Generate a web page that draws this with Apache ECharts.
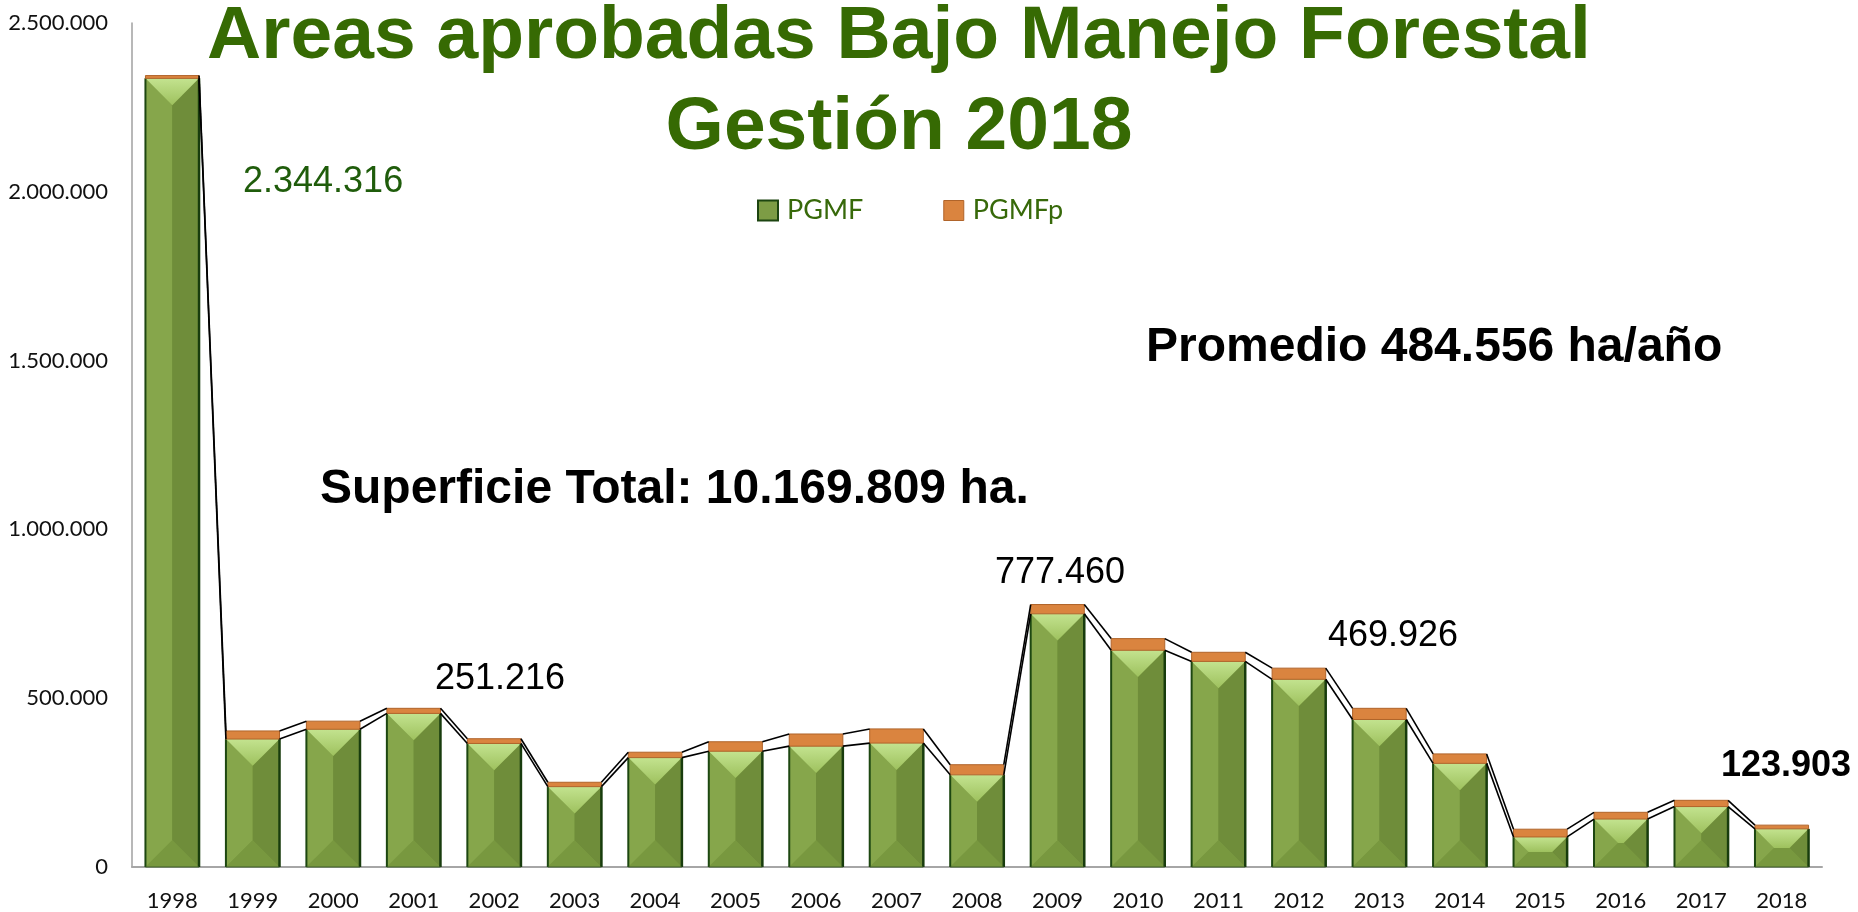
<!DOCTYPE html>
<html lang="es">
<head>
    <meta charset="UTF-8">
    <title>Areas aprobadas Bajo Manejo Forestal</title>
    <style>
        html, body { margin: 0; padding: 0; background: #fff; }
        #main { width: 1858px; height: 912px; }
    </style>
</head>
<body>
    <div id="main"></div>
    <script src="https://cdn.jsdelivr.net/npm/echarts@6/dist/echarts.min.js"></script>
    <script>
        // datos (ha)
        var years = ['1998', '1999', '2000', '2001', '2002', '2003', '2004', '2005', '2006', '2007', '2008',
                     '2009', '2010', '2011', '2012', '2013', '2014', '2015', '2016', '2017', '2018'];
        var pgmf  = [2336000, 379000, 408000, 455000, 366000, 238000, 324000, 343000, 358000, 367000, 273000,
                     750000, 642000, 609000, 556000, 437000, 307000, 89000, 142000, 179000, 113000];
        var pgmfp = [8300, 24000, 24000, 15000, 14000, 13000, 16000, 28000, 36000, 42000, 30000,
                     27500, 34500, 27000, 33000, 33000, 28000, 23000, 20000, 18500, 11000];
        var yTicks = [0, 500000, 1000000, 1500000, 2000000, 2500000];

        var BAR = 0.666;   // ancho de barra / ancho de categoria

        var totals = pgmf.map(function (v, i) { return v + pgmfp[i]; });
        var barData = years.map(function (y, i) { return [i, pgmf[i], totals[i]]; });
        var lineData = [];
        for (var i = 0; i < years.length - 1; i++) {
            lineData.push([i, totals[i], totals[i + 1], pgmf[i], pgmf[i + 1]]);
        }

        function fmt(v) {
            return String(v).replace(/\B(?=(\d{3})+(?!\d))/g, '.');
        }

        // barra verde con efecto bisel
        function renderGreen(params, api) {
            var idx = api.value(0);
            var base = api.coord([idx, 0]);
            var top = api.coord([idx, api.value(1)]);
            var bw = api.size([1, 0])[0] * BAR;
            var l = base[0] - bw / 2, r = base[0] + bw / 2, t = top[1], b = base[1];
            var d = Math.min(bw / 2, (b - t) / 2);
            var p1 = [l, t], p2 = [r, t], p3 = [r, b], p4 = [l, b];
            var i1 = [l + d, t + d], i2 = [r - d, t + d], i3 = [r - d, b - d], i4 = [l + d, b - d];
            return {
                type: 'group',
                children: [
                    { type: 'polygon', shape: { points: [p1, p2, p3, p4] }, style: { fill: '#7b9a42' } },
                    { type: 'polygon', shape: { points: [p1, i1, i4, p4] }, style: { fill: '#86a64b' } },
                    { type: 'polygon', shape: { points: [p2, p3, i3, i2] }, style: { fill: '#6f8d3a' } },
                    { type: 'polygon', shape: { points: [p4, i4, i3, p3] }, style: { fill: '#78983f' } },
                    { type: 'polygon', shape: { points: [p1, p2, i2, i1] },
                      style: { fill: new echarts.graphic.LinearGradient(0, 0, 0, 1, [
                          { offset: 0, color: '#c3e38f' }, { offset: 1, color: '#9ec15e' }]) } },
                    { type: 'polyline', shape: { points: [p1, p4] }, style: { stroke: '#1d4711', lineWidth: 2, fill: null } },
                    { type: 'polyline', shape: { points: [p2, p3] }, style: { stroke: '#183c0d', lineWidth: 2.5, fill: null } },
                    { type: 'polyline', shape: { points: [p4, p3] }, style: { stroke: '#3f5e2a', lineWidth: 1, fill: null } }
                ]
            };
        }

        // parte naranja (PGMFp) encima de la verde
        function renderOrange(params, api) {
            var idx = api.value(0);
            var lo = api.coord([idx, api.value(1)]);
            var hi = api.coord([idx, api.value(2)]);
            var bw = api.size([1, 0])[0] * BAR;
            return {
                type: 'rect',
                shape: { x: lo[0] - bw / 2, y: hi[1], width: bw, height: lo[1] - hi[1] },
                style: { fill: '#da843f', stroke: '#b0642a', lineWidth: 1 }
            };
        }

        // lineas de serie entre barras consecutivas
        function renderLines(params, api) {
            var idx = api.value(0);
            var bw = api.size([1, 0])[0] * BAR;
            var a1 = api.coord([idx, api.value(1)]), b1 = api.coord([idx + 1, api.value(2)]);
            var a2 = api.coord([idx, api.value(3)]), b2 = api.coord([idx + 1, api.value(4)]);
            return {
                type: 'group',
                children: [
                    { type: 'line', shape: { x1: a1[0] + bw / 2, y1: a1[1], x2: b1[0] - bw / 2, y2: b1[1] },
                      style: { stroke: '#000', lineWidth: 1.6 } },
                    { type: 'line', shape: { x1: a2[0] + bw / 2, y1: a2[1], x2: b2[0] - bw / 2, y2: b2[1] },
                      style: { stroke: '#000', lineWidth: 1.6 } }
                ]
            };
        }

        var myChart = echarts.init(document.getElementById('main'));
        var option = {
            animation: false,
            grid: { left: 132, right: 36, top: 23, bottom: 45 },
            legend: {
                left: 752,
                top: 192,
                itemWidth: 20,
                itemHeight: 20,
                itemGap: 80,
                selectedMode: false,
                textStyle: { fontFamily: 'Lato', fontSize: 27, color: '#37690a', padding: [0, 0, 0, 4] },
                data: [
                    { name: 'PGMF', icon: 'rect', itemStyle: { color: '#7d9c45', borderColor: '#1c4410', borderWidth: 2 } },
                    { name: 'PGMFp', icon: 'rect', itemStyle: { color: '#da843f', borderColor: '#b0642a', borderWidth: 1 } }
                ]
            },
            xAxis: {
                type: 'category',
                data: years,
                axisLine: { lineStyle: { color: '#a6a6a6', width: 2 } },
                axisTick: { show: false },
                axisLabel: { fontFamily: 'Lato', fontSize: 22, color: '#111', margin: 23 }
            },
            yAxis: {
                type: 'value',
                min: yTicks[0],
                max: yTicks[yTicks.length - 1],
                interval: yTicks[1] - yTicks[0],
                splitLine: { show: false },
                axisTick: { show: false },
                axisLine: { show: true, lineStyle: { color: '#a0a0a0', width: 1.5 } },
                axisLabel: { fontFamily: 'Lato', fontSize: 22, color: '#111', margin: 24, formatter: fmt }
            },
            graphic: [
                { type: 'text', x: 899, y: 37, style: { text: 'Areas aprobadas Bajo Manejo Forestal', align: 'center', verticalAlign: 'middle',
                    font: 'bold 75px "Liberation Sans", Arial, sans-serif', fill: '#366a03' } },
                { type: 'text', x: 899, y: 128, style: { text: 'Gestión 2018', align: 'center', verticalAlign: 'middle',
                    font: 'bold 75px "Liberation Sans", Arial, sans-serif', fill: '#366a03' } },
                { type: 'text', x: 243, y: 182, style: { text: '2.344.316', align: 'left', verticalAlign: 'middle',
                    font: '36px "Liberation Sans", Arial, sans-serif', fill: '#1f5c0b' } },
                { type: 'text', x: 500, y: 679, style: { text: '251.216', align: 'center', verticalAlign: 'middle',
                    font: '36px "Liberation Sans", Arial, sans-serif', fill: '#000' } },
                { type: 'text', x: 1060, y: 573, style: { text: '777.460', align: 'center', verticalAlign: 'middle',
                    font: '36px "Liberation Sans", Arial, sans-serif', fill: '#000' } },
                { type: 'text', x: 1393, y: 636, style: { text: '469.926', align: 'center', verticalAlign: 'middle',
                    font: '36px "Liberation Sans", Arial, sans-serif', fill: '#000' } },
                { type: 'text', x: 1786, y: 766, style: { text: '123.903', align: 'center', verticalAlign: 'middle',
                    font: 'bold 36px "Liberation Sans", Arial, sans-serif', fill: '#000' } },
                { type: 'text', x: 320, y: 490, style: { text: 'Superficie Total: 10.169.809 ha.', align: 'left', verticalAlign: 'middle',
                    font: 'bold 48px "Liberation Sans", Arial, sans-serif', fill: '#000' } },
                { type: 'text', x: 1146, y: 348, style: { text: 'Promedio 484.556 ha/año', align: 'left', verticalAlign: 'middle',
                    font: 'bold 48px "Liberation Sans", Arial, sans-serif', fill: '#000' } }
            ],
            series: [
                {
                    name: 'lineas',
                    type: 'custom',
                    renderItem: renderLines,
                    data: lineData,
                    encode: { x: 0, y: [1, 2] },
                    z: 3,
                    silent: true
                },
                {
                    name: 'PGMF',
                    type: 'custom',
                    renderItem: renderGreen,
                    itemStyle: { color: '#7d9c45' },
                    data: barData,
                    encode: { x: 0, y: 1 },
                    z: 2
                },
                {
                    name: 'PGMFp',
                    type: 'custom',
                    renderItem: renderOrange,
                    itemStyle: { color: '#da843f' },
                    data: barData,
                    encode: { x: 0, y: [1, 2] },
                    z: 2
                }
            ]
        };
        myChart.setOption(option);
    </script>
</body>
</html>
